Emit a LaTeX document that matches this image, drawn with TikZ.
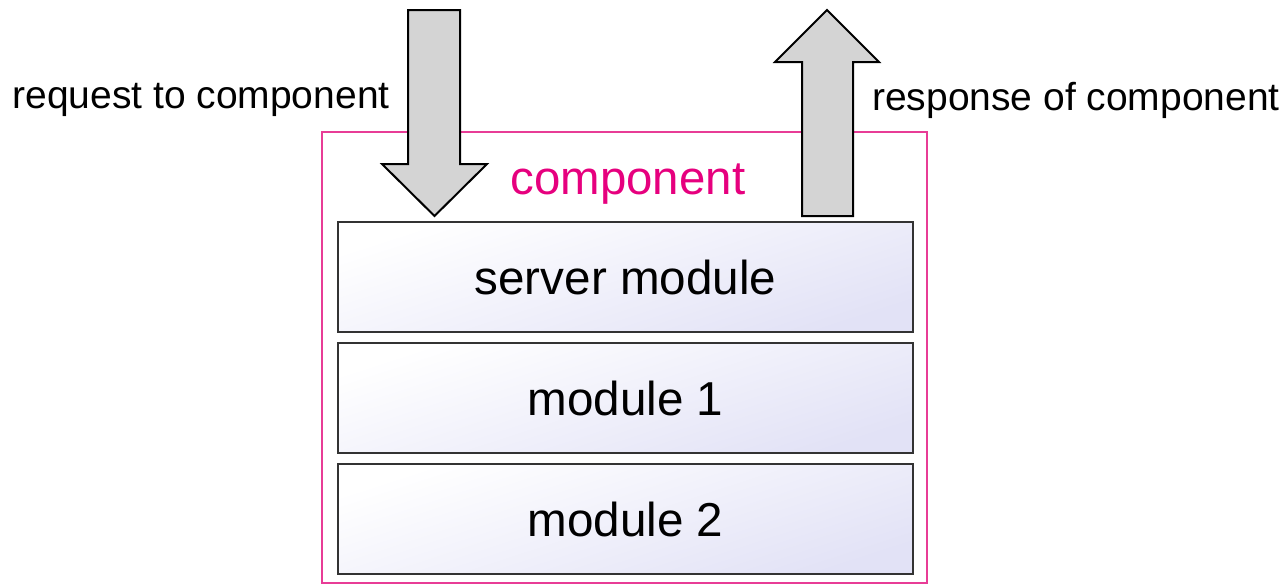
\documentclass[tikz,border=0pt]{standalone}
\usepackage{fontspec}
\setmainfont{Liberation Sans}
\usetikzlibrary{positioning}
\definecolor{compink}{RGB}{230,0,126}
\definecolor{boxpink}{RGB}{232,60,150}
\definecolor{modlav}{RGB}{226,226,246}
\definecolor{arrgray}{RGB}{212,212,212}

\begin{document}
\begin{tikzpicture}[x=0.5pt,y=-0.5pt,node distance=4.8pt,
  module/.style={draw=black!80, line width=0.7pt, minimum width=287.5pt, minimum height=55pt, inner sep=0pt,
    top color=white, bottom color=modlav, shading angle=18, font=\fontsize{23.8}{28}\selectfont},
  sidetext/.style={font=\fontsize{19.5}{24}\selectfont, inner sep=0pt},
  blockarrow/.style={draw=black, fill=arrgray, line width=1pt, line join=miter}]
  \useasboundingbox (0,0) rectangle (1287,585);

  % outer component box
  \draw[boxpink, line width=0.75pt] (322,132) rectangle (927,583);
  \node[text=compink, font=\fontsize{23.7}{28}\selectfont] (comp) at (628,184) {component};

  % request / response arrows
  \draw[blockarrow] (408,10) -- (460,10) -- (460,164) -- (487,164) -- (434.5,216) -- (382,164) -- (408,164) -- cycle;
  \draw[blockarrow] (802,216) -- (853,216) -- (853,62) -- (879,62) -- (827,10) -- (775,62) -- (802,62) -- cycle;
  \node[sidetext] (req) at (201,100) {request to component};
  \node[sidetext] (resp) at (1076,100) {response of component};

  % modules
  \node[module] (server) at (625.5,277) {server module};
  \node[module] (mod1) [below=of server] {module 1};
  \node[module] (mod2) [below=of mod1] {module 2};
\end{tikzpicture}
\end{document}
